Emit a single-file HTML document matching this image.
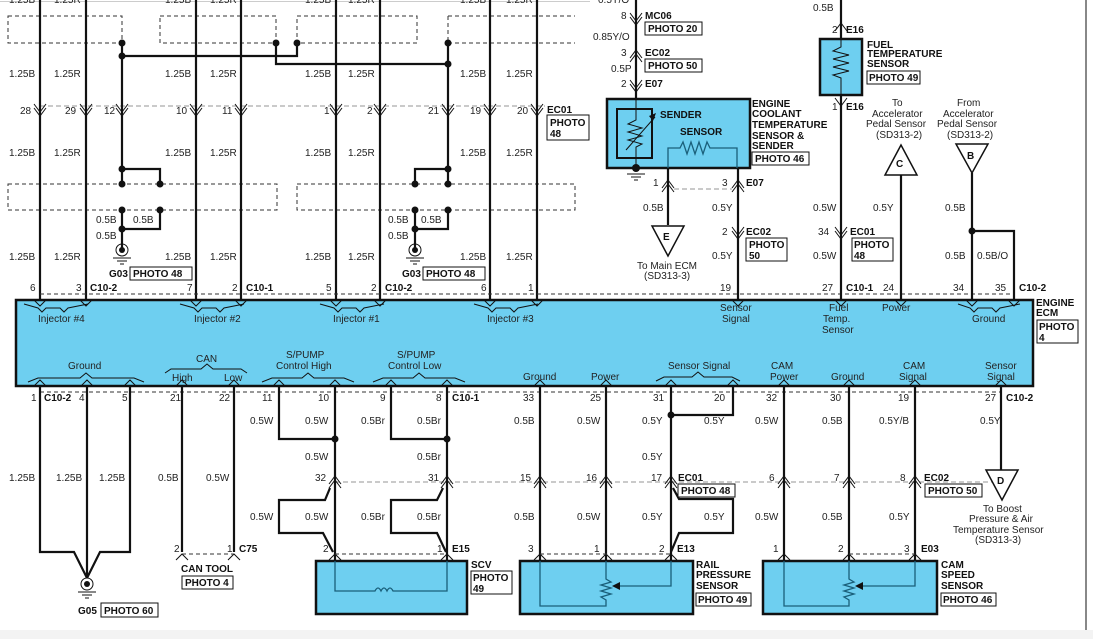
<!DOCTYPE html>
<html><head><meta charset="utf-8"><style>
html,body{margin:0;padding:0;background:#fff}
svg{display:block}
text{font-family:"Liberation Sans",Arial,sans-serif;font-size:10px;fill:#222}
.b{font-weight:bold;fill:#111}
.w{stroke:#111;stroke-width:2.2;fill:none}
.t{stroke:#111;stroke-width:1;fill:none}
.d{stroke:#333;stroke-width:1;fill:none;stroke-dasharray:4,3}
.g{stroke:#aaa;stroke-width:1.3;fill:none;stroke-dasharray:5,3}
.bx{fill:#fff;stroke:#111;stroke-width:1}
.cy{fill:#6ecff0;stroke:#111;stroke-width:2.5}
.in{fill:none;stroke:#1a5f7a;stroke-width:1.3}
</style></head><body>
<svg width="1093" height="639" viewBox="0 0 1093 639" xmlns="http://www.w3.org/2000/svg">
<rect x="0" y="630" width="1093" height="9" fill="#f3f3f3"/>
<line x1="1086" y1="0" x2="1086" y2="630" class="t"/>
<line x1="0" y1="1.5" x2="590" y2="1.5" stroke="#ccc" stroke-width="1"/>
<g>
<text x="9" y="3">1.25B</text><text x="54" y="3">1.25R</text><text x="165" y="3">1.25B</text><text x="210" y="3">1.25R</text><text x="305" y="3">1.25B</text><text x="348" y="3">1.25R</text><text x="460" y="3">1.25B</text><text x="506" y="3">1.25R</text>
</g>

<!-- top dashed boxes -->
<rect x="8" y="16" width="114" height="27" class="d"/>
<rect x="160" y="16" width="116" height="27" class="d"/>
<rect x="297" y="16" width="120" height="27" class="d"/>
<path d="M448 16 H575 M448 43 H575 M448 16 V43" class="d"/>
<rect x="8" y="184" width="269" height="26" class="d"/>
<rect x="297" y="184" width="278" height="26" class="d"/>

<line x1="40" y1="106" x2="545" y2="106" class="g"/>
<g class="w">
<path d="M40 0V300 M86 0V300 M196 0V300 M241 0V300 M336 0V300 M380 0V300 M490 0V300 M537 0V300"/>
<path d="M122 43V169 M122 56H297V43 M276 43V64H448 M448 43V169"/>
<path d="M122 169H160V184 M122 169V184 M122 210V248 M160 210V229H122"/>
<path d="M448 169H415V184 M448 169V184 M415 210V248 M448 210V229H415"/>
</g>
<g fill="#111">
<circle cx="122" cy="43" r="3.5"/><circle cx="122" cy="56" r="3.5"/><circle cx="276" cy="43" r="3.5"/><circle cx="297" cy="43" r="3.5"/><circle cx="448" cy="43" r="3.5"/><circle cx="448" cy="64" r="3.5"/>
<circle cx="122" cy="169" r="3.5"/><circle cx="122" cy="184" r="3.5"/><circle cx="160" cy="184" r="3.5"/><circle cx="122" cy="210" r="3.5"/><circle cx="160" cy="210" r="3.5"/><circle cx="122" cy="229" r="3.5"/>
<circle cx="448" cy="169" r="3.5"/><circle cx="415" cy="184" r="3.5"/><circle cx="448" cy="184" r="3.5"/><circle cx="415" cy="210" r="3.5"/><circle cx="448" cy="210" r="3.5"/><circle cx="415" cy="229" r="3.5"/>
</g>
<g><circle cx="122" cy="250" r="6" class="t" stroke-width="1.5"/><circle cx="122" cy="250" r="3" fill="#111"/><path d="M113 258H131 M117 261H127 M120 264H124" class="t"/></g>
<g><circle cx="415" cy="250" r="6" class="t" stroke-width="1.5"/><circle cx="415" cy="250" r="3" fill="#111"/><path d="M406 258H424 M410 261H420 M413 264H417" class="t"/></g>
<text x="109" y="277" class="b">G03</text><rect x="130" y="267" width="62" height="13" class="bx"/><text x="133" y="277" class="b">PHOTO 48</text>
<text x="402" y="277" class="b">G03</text><rect x="423" y="267" width="62" height="13" class="bx"/><text x="426" y="277" class="b">PHOTO 48</text>
<text x="96" y="223">0.5B</text><text x="133" y="223">0.5B</text><text x="96" y="239">0.5B</text>
<text x="388" y="223">0.5B</text><text x="421" y="223">0.5B</text><text x="388" y="239">0.5B</text>
<g class="t" stroke-width="1.3">
<path d="M34 104l6 8l6-8 M34 108l6 8l6-8 M80 104l6 8l6-8 M80 108l6 8l6-8 M116 104l6 8l6-8 M116 108l6 8l6-8 M190 104l6 8l6-8 M190 108l6 8l6-8 M235 104l6 8l6-8 M235 108l6 8l6-8 M330 104l6 8l6-8 M330 108l6 8l6-8 M374 104l6 8l6-8 M374 108l6 8l6-8 M442 104l6 8l6-8 M442 108l6 8l6-8 M484 104l6 8l6-8 M484 108l6 8l6-8 M531 104l6 8l6-8 M531 108l6 8l6-8"/>
</g>
<g>
<text x="20" y="114">28</text><text x="65" y="114">29</text><text x="104" y="114">12</text><text x="176" y="114">10</text><text x="222" y="114">11</text><text x="324" y="114">1</text><text x="367" y="114">2</text><text x="428" y="114">21</text><text x="470" y="114">19</text><text x="517" y="114">20</text>
</g>
<g>
<text x="9" y="77">1.25B</text><text x="54" y="77">1.25R</text><text x="165" y="77">1.25B</text><text x="210" y="77">1.25R</text><text x="305" y="77">1.25B</text><text x="348" y="77">1.25R</text><text x="460" y="77">1.25B</text><text x="506" y="77">1.25R</text>
<text x="9" y="156">1.25B</text><text x="54" y="156">1.25R</text><text x="165" y="156">1.25B</text><text x="210" y="156">1.25R</text><text x="305" y="156">1.25B</text><text x="348" y="156">1.25R</text><text x="460" y="156">1.25B</text><text x="506" y="156">1.25R</text>
<text x="9" y="260">1.25B</text><text x="54" y="260">1.25R</text><text x="165" y="260">1.25B</text><text x="210" y="260">1.25R</text><text x="305" y="260">1.25B</text><text x="348" y="260">1.25R</text><text x="460" y="260">1.25B</text><text x="506" y="260">1.25R</text>
</g>
<text x="547" y="113" class="b">EC01</text><rect x="547" y="115" width="42" height="25" class="bx"/><text x="550" y="126" class="b">PHOTO</text><text x="550" y="137" class="b">48</text>
<line x1="40" y1="294" x2="1014" y2="294" class="d"/>
<g>
<text x="30" y="291">6</text><text x="76" y="291">3</text><text x="90" y="291" class="b">C10-2</text><text x="187" y="291">7</text><text x="232" y="291">2</text><text x="246" y="291" class="b">C10-1</text><text x="326" y="291">5</text><text x="371" y="291">2</text><text x="385" y="291" class="b">C10-2</text><text x="481" y="291">6</text><text x="528" y="291">1</text>
<text x="720" y="291">19</text><text x="822" y="291">27</text><text x="846" y="291" class="b">C10-1</text><text x="883" y="291">24</text><text x="953" y="291">34</text><text x="995" y="291">35</text><text x="1019" y="291" class="b">C10-2</text>
</g>

<g class="w">
<path d="M636 0V100 M841 0V300 M668 168V225 M738 168V300 M901 175V300 M972 173V300 M972 231H1014V300"/>
</g>
<circle cx="972" cy="231" r="3.5" fill="#111"/>
<g class="t" stroke-width="1.3">
<path d="M630 13l6 8l6-8 M630 17l6 8l6-8 M630 58l6-8l6 8 M630 62l6-8l6 8 M630 80l6 8l6-8 M630 84l6 8l6-8 M662 188l6-8l6 8 M662 192l6-8l6 8 M732 188l6-8l6 8 M732 192l6-8l6 8 M732 227l6 8l6-8 M732 231l6 8l6-8 M835 227l6 8l6-8 M835 231l6 8l6-8 M835 98l6 8l6-8 M835 31l6-8l6 8"/>
</g>
<line x1="674" y1="189" x2="732" y2="189" class="g"/>
<text x="621" y="19">8</text><text x="645" y="19" class="b">MC06</text><rect x="645" y="22" width="57" height="13" class="bx"/><text x="648" y="32" class="b">PHOTO 20</text>
<text x="593" y="40">0.85Y/O</text><text x="598" y="3">0.5Y/O</text>
<text x="621" y="56">3</text><text x="645" y="56" class="b">EC02</text><rect x="645" y="59" width="57" height="13" class="bx"/><text x="648" y="69" class="b">PHOTO 50</text>
<text x="611" y="72">0.5P</text>
<text x="621" y="87">2</text><text x="645" y="87" class="b">E07</text>
<rect x="607" y="99" width="143" height="69" class="cy"/>
<rect x="617" y="109" width="35" height="49" fill="none" stroke="#111" stroke-width="2"/>
<path d="M636 100V120 l-8 4 l14 4 l-14 4 l14 4 l-14 4 l14 4 l-6 3 V168" class="t"/>
<path d="M626 150 L655 117" class="t"/><path d="M649 116 l7 -3 l-3 8z" fill="#111"/>
<path d="M668 168V148H680l3-6l4 12l4-12l4 12l4-12l4 12l4-12l3 6H737V168" class="in" stroke="#222"/>
<text x="660" y="118" class="b">SENDER</text><text x="680" y="135" class="b">SENSOR</text>
<circle cx="636" cy="168" r="4" fill="#111"/><path d="M627 174H645 M631 177H641 M634 180H638" class="t"/>
<text x="752" y="107" class="b">ENGINE</text><text x="752" y="117" class="b">COOLANT</text><text x="752" y="128" class="b">TEMPERATURE</text><text x="752" y="139" class="b">SENSOR &amp;</text><text x="752" y="149" class="b">SENDER</text>
<rect x="752" y="152" width="57" height="13" class="bx"/><text x="755" y="162" class="b">PHOTO 46</text>
<text x="653" y="186">1</text><text x="722" y="186">3</text><text x="746" y="186" class="b">E07</text>
<text x="643" y="211">0.5B</text><text x="712" y="211">0.5Y</text>
<path d="M652 226H684L668 256Z" fill="#fff" stroke="#111" stroke-width="1.5"/><text x="663" y="240" class="b">E</text>
<text x="637" y="269">To Main ECM</text><text x="644" y="279">(SD313-3)</text>
<text x="722" y="235">2</text><text x="746" y="235" class="b">EC02</text><rect x="746" y="238" width="41" height="23" class="bx"/><text x="749" y="248" class="b">PHOTO</text><text x="749" y="259" class="b">50</text>
<text x="712" y="259">0.5Y</text>
<text x="813" y="11">0.5B</text>
<text x="832" y="33">2</text><text x="846" y="33" class="b">E16</text>
<rect x="820" y="39" width="42" height="56" class="cy"/>
<path d="M841 39V47 l-8 4 l16 4 l-16 4 l16 4 l-16 4 l16 4 l-16 4 l8 3 V95" class="t"/>
<text x="867" y="48" class="b">FUEL</text><text x="867" y="57" class="b">TEMPERATURE</text><text x="867" y="67" class="b">SENSOR</text>
<rect x="867" y="71" width="53" height="13" class="bx"/><text x="869" y="81" class="b">PHOTO 49</text>
<text x="832" y="110">1</text><text x="846" y="110" class="b">E16</text>
<text x="813" y="211">0.5W</text><text x="813" y="259">0.5W</text>
<text x="818" y="235">34</text><text x="850" y="235" class="b">EC01</text><rect x="852" y="238" width="41" height="23" class="bx"/><text x="854" y="248" class="b">PHOTO</text><text x="854" y="259" class="b">48</text>
<text x="892" y="106">To</text><text x="872" y="117">Accelerator</text><text x="866" y="127">Pedal Sensor</text><text x="876" y="138">(SD313-2)</text>
<path d="M901 145L917 175H885Z" fill="#fff" stroke="#111" stroke-width="1.5"/><text x="896" y="167" class="b">C</text>
<text x="873" y="211">0.5Y</text>
<text x="957" y="106">From</text><text x="943" y="117">Accelerator</text><text x="937" y="127">Pedal Sensor</text><text x="947" y="138">(SD313-2)</text>
<path d="M956 144H988L972 173Z" fill="#fff" stroke="#111" stroke-width="1.5"/><text x="967" y="159" class="b">B</text>
<text x="945" y="211">0.5B</text><text x="945" y="259">0.5B</text><text x="977" y="259">0.5B/O</text>

<rect x="16" y="300" width="1017" height="86" class="cy"/>
<g class="t" stroke-width="1.2" fill="#6ecff0">
<path d="M34 300l6 6l6-6 M80 300l6 6l6-6 M190 300l6 6l6-6 M235 300l6 6l6-6 M330 300l6 6l6-6 M374 300l6 6l6-6 M484 300l6 6l6-6 M531 300l6 6l6-6 M732 300l6 6l6-6 M835 300l6 6l6-6 M895 300l6 6l6-6 M966 300l6 6l6-6 M1008 300l6 6l6-6"/>
<path d="M24 304l14 4l4 4l4-4l14 0l4 4 l4-4l20-4" fill="none"/>
<path d="M180 304l14 4l4 4l4-4l14 0l4 4l4-4l20-4" fill="none"/>
<path d="M320 304l14 4l4 4l4-4l14 0l4 4l4-4l20-4" fill="none"/>
<path d="M474 304l14 4l4 4l4-4l14 0l4 4l4-4l20-4" fill="none"/>
<path d="M958 304l12 4l4 4l4-4l14 0l4 4l4-4l20-4" fill="none"/>
<path d="M34 386l6-6l6 6 M81 386l6-6l6 6 M124 386l6-6l6 6 M176 386l6-6l6 6 M228 386l6-6l6 6 M273 386l6-6l6 6 M329 386l6-6l6 6 M385 386l6-6l6 6 M441 386l6-6l6 6 M534 386l6-6l6 6 M600 386l6-6l6 6 M665 386l6-6l6 6 M727 386l6-6l6 6 M778 386l6-6l6 6 M843 386l6-6l6 6 M909 386l6-6l6 6 M995 386l6-6l6 6"/>
<path d="M28 382l10-4h42l6-5l6 5h42l10 4" fill="none"/>
<path d="M165 373l6-4h30l6-5l6 5h28l6 4" fill="none"/>
<path d="M262 382l10-4h30l6-5l6 5h30l10 4" fill="none"/>
<path d="M373 382l10-4h30l6-5l6 5h30l10 4" fill="none"/>
<path d="M656 381l8-4h28l6-5l6 5h28l8 4" fill="none"/>
</g>
<g>
<text x="38" y="322">Injector #4</text><text x="194" y="322">Injector #2</text><text x="333" y="322">Injector #1</text><text x="487" y="322">Injector #3</text>
<text x="720" y="311">Sensor</text><text x="722" y="322">Signal</text>
<text x="829" y="311">Fuel</text><text x="823" y="322">Temp.</text><text x="822" y="333">Sensor</text>
<text x="882" y="311">Power</text><text x="972" y="322">Ground</text>
<text x="68" y="369">Ground</text>
<text x="196" y="362">CAN</text><text x="172" y="381">High</text><text x="224" y="381">Low</text>
<text x="286" y="358">S/PUMP</text><text x="276" y="369">Control High</text>
<text x="397" y="358">S/PUMP</text><text x="388" y="369">Control Low</text>
<text x="523" y="380">Ground</text><text x="591" y="380">Power</text><text x="668" y="369">Sensor Signal</text>
<text x="771" y="369">CAM</text><text x="770" y="380">Power</text><text x="831" y="380">Ground</text>
<text x="903" y="369">CAM</text><text x="899" y="380">Signal</text>
<text x="985" y="369">Sensor</text><text x="987" y="380">Signal</text>
</g>
<text x="1036" y="306" class="b">ENGINE</text><text x="1036" y="316" class="b">ECM</text>
<rect x="1037" y="320" width="41" height="23" class="bx"/><text x="1039" y="330" class="b">PHOTO</text><text x="1039" y="341" class="b">4</text>

<line x1="40" y1="392" x2="1001" y2="392" class="d"/>
<g>
<text x="31" y="401">1</text><text x="44" y="401" class="b">C10-2</text><text x="79" y="401">4</text><text x="122" y="401">5</text><text x="170" y="401">21</text><text x="219" y="401">22</text><text x="262" y="401">11</text><text x="318" y="401">10</text><text x="380" y="401">9</text><text x="436" y="401">8</text><text x="452" y="401" class="b">C10-1</text>
<text x="523" y="401">33</text><text x="590" y="401">25</text><text x="653" y="401">31</text><text x="714" y="401">20</text><text x="766" y="401">32</text><text x="830" y="401">30</text><text x="898" y="401">19</text><text x="985" y="401">27</text><text x="1006" y="401" class="b">C10-2</text>
</g>
<line x1="335" y1="482" x2="1000" y2="482" class="g"/>
<g class="w">
<path d="M40 386V552H74L87 578 M87 386V578 M130 386V552H100L87 578"/>
<path d="M182 386V552 M234 386V552"/>
<path d="M279 386V439H335 M335 386V561 M330 488L325 500H279V533H323L333 552"/>
<path d="M391 386V439H447 M447 386V561 M443 488L437 500H391V533H437L446 552"/>
<path d="M540 386V561 M606 386V561 M671 386V561 M733 386V415H671 M673 488L679 499H733V533H679L671 552"/>
<path d="M784 386V561 M849 386V561 M915 386V561 M1001 386V470"/>
</g>
<circle cx="335" cy="439" r="3.5" fill="#111"/><circle cx="447" cy="439" r="3.5" fill="#111"/><circle cx="671" cy="415" r="3.5" fill="#111"/>
<g class="t" stroke-width="1.3">
<path d="M329 484l6-8l6 8 M329 488l6-8l6 8 M441 484l6-8l6 8 M441 488l6-8l6 8 M534 484l6-8l6 8 M534 488l6-8l6 8 M600 484l6-8l6 8 M600 488l6-8l6 8 M665 484l6-8l6 8 M665 488l6-8l6 8 M778 484l6-8l6 8 M778 488l6-8l6 8 M843 484l6-8l6 8 M843 488l6-8l6 8 M909 484l6-8l6 8 M909 488l6-8l6 8"/>
<path d="M176 560l6-6l6 6 M228 560l6-6l6 6 M329 560l6-6l6 6 M441 560l6-6l6 6 M534 560l6-6l6 6 M600 560l6-6l6 6 M665 560l6-6l6 6 M778 560l6-6l6 6 M843 560l6-6l6 6 M909 560l6-6l6 6"/>
</g>
<path d="M182 554H234 M335 554H447 M540 554H671 M849 554H915" class="d"/>
<g>
<text x="9" y="481">1.25B</text><text x="56" y="481">1.25B</text><text x="99" y="481">1.25B</text>
<text x="158" y="481">0.5B</text><text x="206" y="481">0.5W</text>
<text x="250" y="424">0.5W</text><text x="305" y="424">0.5W</text><text x="305" y="460">0.5W</text><text x="250" y="520">0.5W</text><text x="305" y="520">0.5W</text>
<text x="361" y="424">0.5Br</text><text x="417" y="424">0.5Br</text><text x="417" y="460">0.5Br</text><text x="361" y="520">0.5Br</text><text x="417" y="520">0.5Br</text>
<text x="514" y="424">0.5B</text><text x="577" y="424">0.5W</text><text x="642" y="424">0.5Y</text><text x="704" y="424">0.5Y</text><text x="642" y="460">0.5Y</text>
<text x="514" y="520">0.5B</text><text x="577" y="520">0.5W</text><text x="642" y="520">0.5Y</text><text x="704" y="520">0.5Y</text>
<text x="755" y="424">0.5W</text><text x="822" y="424">0.5B</text><text x="879" y="424">0.5Y/B</text><text x="980" y="424">0.5Y</text>
<text x="755" y="520">0.5W</text><text x="822" y="520">0.5B</text><text x="889" y="520">0.5Y</text>
<text x="315" y="481">32</text><text x="428" y="481">31</text><text x="520" y="481">15</text><text x="586" y="481">16</text><text x="651" y="481">17</text><text x="769" y="481">6</text><text x="834" y="481">7</text><text x="900" y="481">8</text>
<text x="174" y="552">2</text><text x="227" y="552">1</text><text x="239" y="552" class="b">C75</text>
<text x="323" y="552">2</text><text x="437" y="552">1</text><text x="452" y="552" class="b">E15</text>
<text x="528" y="552">3</text><text x="594" y="552">1</text><text x="659" y="552">2</text><text x="677" y="552" class="b">E13</text>
<text x="773" y="552">1</text><text x="838" y="552">2</text><text x="904" y="552">3</text><text x="921" y="552" class="b">E03</text>
</g>
<text x="678" y="481" class="b">EC01</text><rect x="678" y="484" width="57" height="13" class="bx"/><text x="681" y="494" class="b">PHOTO 48</text>
<text x="924" y="481" class="b">EC02</text><rect x="925" y="484" width="57" height="13" class="bx"/><text x="928" y="494" class="b">PHOTO 50</text>
<path d="M986 470H1018L1002 500Z" fill="#fff" stroke="#111" stroke-width="1.5"/><text x="997" y="484" class="b">D</text>
<text x="983" y="512">To Boost</text><text x="969" y="522">Pressure &amp; Air</text><text x="953" y="533">Temperature Sensor</text><text x="975" y="543">(SD313-3)</text>
<circle cx="87" cy="584" r="6" class="t" stroke-width="1.5"/><circle cx="87" cy="584" r="3" fill="#111"/><path d="M78 592H96 M82 595H92 M85 598H89" class="t"/>
<text x="78" y="614" class="b">G05</text><rect x="101" y="603" width="57" height="14" class="bx"/><text x="104" y="614" class="b">PHOTO 60</text>
<text x="181" y="572" class="b">CAN TOOL</text><rect x="182" y="576" width="51" height="13" class="bx"/><text x="185" y="586" class="b">PHOTO 4</text>
<rect x="316" y="561" width="151" height="53" class="cy"/>
<path d="M335 561V591H375 q3-6 6 0 q3-6 6 0 q3-6 6 0 H447V561" class="in"/>
<text x="471" y="568" class="b">SCV</text><rect x="471" y="571" width="41" height="23" class="bx"/><text x="473" y="581" class="b">PHOTO</text><text x="473" y="592" class="b">49</text>
<rect x="520" y="561" width="173" height="53" class="cy"/>
<path d="M540 561V606H606V600l-5-3l10-3l-10-3l10-3l-10-3l10-3l-5-3V561 M671 561V586H620" class="in" stroke="#111"/>
<path d="M612 586l8-4v8z" fill="#111"/>
<text x="696" y="568" class="b">RAIL</text><text x="696" y="578" class="b">PRESSURE</text><text x="696" y="589" class="b">SENSOR</text>
<rect x="696" y="593" width="55" height="13" class="bx"/><text x="698" y="603" class="b">PHOTO 49</text>
<rect x="763" y="561" width="174" height="53" class="cy"/>
<path d="M784 561V606H849V600l-5-3l10-3l-10-3l10-3l-10-3l10-3l-5-3V561 M915 561V586H863" class="in" stroke="#111"/>
<path d="M855 586l8-4v8z" fill="#111"/>
<text x="941" y="568" class="b">CAM</text><text x="941" y="578" class="b">SPEED</text><text x="941" y="589" class="b">SENSOR</text>
<rect x="941" y="593" width="55" height="13" class="bx"/><text x="943" y="603" class="b">PHOTO 46</text>
</svg>
</body></html>
